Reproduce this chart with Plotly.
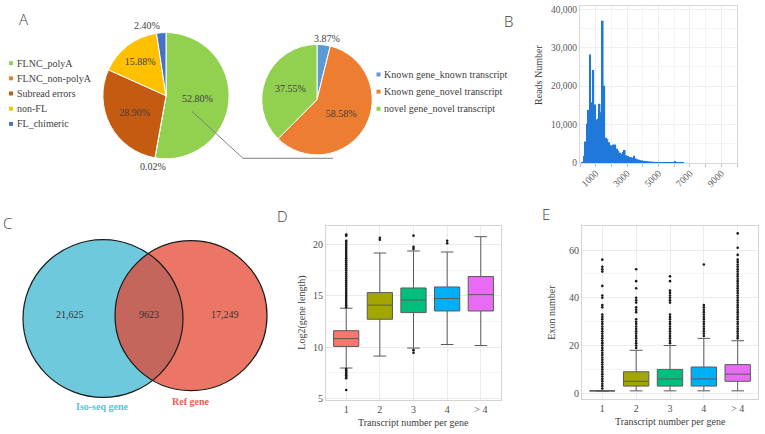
import numpy as np
import plotly.graph_objects as go

W, H = 765, 434
SERIF = "Liberation Serif, Times New Roman, serif"
SANS = "Open Sans, Liberation Sans, sans-serif"

# ---------------- data ----------------
pie1_labels = ["FLNC_polyA", "FLNC_non-polyA", "Subread errors", "non-FL", "FL_chimeric"]
pie1_values = [52.80, 0.02, 28.90, 15.88, 2.40]
pie1_colors = ["#92D050", "#ED7D31", "#C55A11", "#FFC000", "#4472C4"]

pie2_labels = ["Known gene_known transcript", "Known gene_novel transcript", "novel gene_novel transcript"]
pie2_values = [3.87, 58.58, 37.55]
pie2_colors = ["#5B9BD5", "#ED7D31", "#92D050"]

hist_bin_left = [100, 200, 300, 400, 500, 600, 700, 800, 900, 1000,
                 1100, 1200, 1300, 1400, 1500, 1600, 1700, 1800, 1900, 2000,
                 2100, 2200, 2300, 2400, 2500, 2600, 2700, 2800, 2900, 3000,
                 3100, 3200, 3300, 3400, 3500, 3600, 3700, 3800, 3900, 4000,
                 4100, 4200, 4300, 4400, 4500, 4600, 4700, 4800, 4900, 5000,
                 5100, 5200, 5300, 5400, 5500, 5600, 5700, 5800, 5900, 6000,
                 6100, 6200, 6300, 6400, 6500, 6600, 6700, 6800]
hist_counts = [300, 1800, 5600, 10200, 13800, 28200, 15800, 24200, 15200, 11300,
               11600, 15400, 13200, 37000, 20100, 6600, 6200, 5400, 4700, 4400,
               4800, 4800, 3700, 3200, 2700, 2400, 2900, 3400, 2000, 1800,
               1600, 1500, 1400, 1900, 1200, 1000, 850, 750, 650, 600,
               550, 500, 450, 400, 350, 330, 300, 280, 250, 230,
               210, 200, 180, 160, 150, 140, 130, 120, 200, 500,
               150, 80, 60, 40, 30, 25, 20, 15]
hist_tickvals = [1000, 3000, 5000, 7000, 9000]

venn_sets = ["Iso-seq gene", "Ref gene"]
venn_texts = ["21,625", "9623", "17,249"]

box_cats = ["1", "2", "3", "4", "> 4"]
box_colors = ["#F8766D", "#A3A500", "#00BF7D", "#00B0F6", "#E76BF3"]

d_q1 = [10.06, 12.72, 13.37, 13.53, 13.53]
d_med = [10.83, 14.10, 14.60, 14.75, 15.13]
d_q3 = [11.60, 15.33, 15.78, 15.88, 16.90]
d_lo = [7.95, 9.12, 9.90, 10.25, 10.15]
d_hi = [13.80, 19.20, 19.40, 19.30, 20.80]
d_out = [
    [13.9, 14.1, 14.3, 14.5, 14.7, 14.9, 15.1, 15.3, 15.5, 15.7, 15.9, 16.1, 16.3, 16.5,
     16.7, 16.9, 17.1, 17.3, 17.5, 17.7, 17.9, 18.1, 18.3, 18.5, 18.7, 18.9, 19.1, 19.3,
     19.5, 19.7, 19.9, 20.1, 20.3, 20.4, 20.9, 21.0,
     7.85, 7.7, 7.55, 7.4, 7.25, 7.1, 6.95, 5.8],
    [20.5, 20.7],
    [9.7, 9.45, 19.6, 19.8, 20.9],
    [20.15, 20.4],
    [],
]

e_q1 = [1, 3, 3, 3, 5]
e_med = [1, 5, 6, 6, 8]
e_q3 = [1, 9, 10, 11, 12]
e_lo = [1, 1, 1, 1, 1]
e_hi = [1, 18, 20, 23, 22]
e_out = [
    [2, 3, 4, 5, 6, 7, 8, 9, 10, 11, 12, 13, 14, 15, 16, 17, 18, 19, 20, 21, 22, 23, 24,
     25, 26, 27, 28, 29, 30, 31, 32, 33, 36, 37, 40, 41, 45, 51, 52, 53, 56],
    [19, 20, 21, 22, 23, 24, 25, 26, 27, 28, 29, 30, 31, 34, 35, 36, 38, 39, 40, 44, 47, 52],
    [21, 22, 23, 24, 25, 26, 27, 28, 29, 30, 31, 32, 33, 38, 39, 40, 41, 42, 43, 47, 49],
    [24, 25, 26, 27, 28, 29, 30, 31, 32, 33, 34, 35, 36, 37, 54],
    [23, 24, 25, 26, 27, 28, 29, 30, 31, 32, 33, 34, 35, 36, 37, 38, 39, 40, 41, 42, 43, 44,
     45, 46, 47, 48, 49, 50, 51, 52, 53, 54, 55, 56, 58, 61, 67],
]


def PX(x):
    return x / W


def PY(y):
    return 1 - y / H


fig = go.Figure()
shapes = []
annotations = []


def text_at(text, x, y, font, xanchor="center", yanchor="middle", angle=0):
    annotations.append(dict(text=text, x=PX(x), y=PY(y), xref="paper", yref="paper",
                            xanchor=xanchor, yanchor=yanchor, showarrow=False,
                            textangle=angle, font=font))


pct_font = dict(family=SERIF, size=10, color="#404040")

# ---------------- Panel A: pies ----------------
c1, r1 = (166, 96), 64
pie1_pos = ["inside", "none", "inside", "inside", "none"]
fig.add_trace(go.Pie(
    labels=pie1_labels, values=pie1_values, sort=False, direction="clockwise", rotation=0,
    marker=dict(colors=pie1_colors, line=dict(color="white", width=1)),
    texttemplate="%{value:.2f}%", textposition=pie1_pos,
    insidetextorientation="horizontal", textfont=pct_font,
    domain=dict(x=[PX(c1[0] - r1), PX(c1[0] + r1)], y=[PY(c1[1] + r1), PY(c1[1] - r1)]),
    showlegend=False, hoverinfo="label+value",
))
# outside labels for thin slices
text_at(f"{pie1_values[4]:.2f}%", 147, 25, pct_font)
text_at(f"{pie1_values[1]:.2f}%", 153, 168, pct_font)

c2, r2 = (317, 100), 56
fig.add_trace(go.Pie(
    labels=pie2_labels, values=pie2_values, sort=False, direction="clockwise", rotation=0,
    marker=dict(colors=pie2_colors, line=dict(color="white", width=1)),
    texttemplate="%{value:.2f}%", textposition=["none", "inside", "inside"],
    insidetextorientation="horizontal", textfont=pct_font,
    domain=dict(x=[PX(c2[0] - r2), PX(c2[0] + r2)], y=[PY(c2[1] + r2), PY(c2[1] - r2)]),
    showlegend=False, hoverinfo="label+value",
))
text_at(f"{pie2_values[0]:.2f}%", 327, 38, pct_font)


# manual legends
def add_legend(labels, colors, x_marker, x_text, y0, dy):
    for i, (lab, col) in enumerate(zip(labels, colors)):
        y = y0 + i * dy
        shapes.append(dict(type="rect", xref="paper", yref="paper",
                           x0=PX(x_marker - 2), x1=PX(x_marker + 2),
                           y0=PY(y + 2), y1=PY(y - 2), fillcolor=col, line=dict(width=0)))
        text_at(lab, x_text, y, dict(family=SERIF, size=10, color="#404040"), xanchor="left")


add_legend(pie1_labels, pie1_colors, 11, 15, 63, 15.4)
add_legend(pie2_labels, pie2_colors, 378.5, 382, 74.5, 17.4)

# connector line between pies
shapes.append(dict(type="path", xref="paper", yref="paper",
                   path=f"M {PX(192)},{PY(112)} L {PX(243)},{PY(159.5)} L {PX(333)},{PY(159.5)}",
                   line=dict(color="#7F7F7F", width=1)))

# ---------------- Panel B: histogram ----------------
fig.add_trace(go.Bar(
    x=[b + 50 for b in hist_bin_left], y=hist_counts, width=[100] * len(hist_bin_left),
    marker=dict(color="#1F78DA", line=dict(width=0)),
    xaxis="x", yaxis="y", showlegend=False,
))

# ---------------- Panel C: Venn ----------------
vc1, vr1 = np.array([103.0, 322.0]), 80.0
vc2, vr2 = np.array([191.0, 319.0]), 76.0
shapes.append(dict(type="circle", xref="paper", yref="paper",
                   x0=PX(vc1[0] - vr1), x1=PX(vc1[0] + vr1), y0=PY(vc1[1] + vr1), y1=PY(vc1[1] - vr1),
                   fillcolor="#6EC9DD", line=dict(width=0), layer="below"))
shapes.append(dict(type="circle", xref="paper", yref="paper",
                   x0=PX(vc2[0] - vr2), x1=PX(vc2[0] + vr2), y0=PY(vc2[1] + vr2), y1=PY(vc2[1] - vr2),
                   fillcolor="#EC7665", line=dict(width=0), layer="below"))
d = np.linalg.norm(vc2 - vc1)
ex = (vc2 - vc1) / d
perp = np.array([-ex[1], ex[0]])
a = (vr1 ** 2 - vr2 ** 2 + d ** 2) / (2 * d)
h = np.sqrt(vr1 ** 2 - a ** 2)
pA = vc1 + a * ex + h * perp
pB = vc1 + a * ex - h * perp
tA1 = np.arctan2(*(pA - vc1)[::-1])
tB1 = np.arctan2(*(pB - vc1)[::-1])
t1 = np.linspace(min(tA1, tB1), max(tA1, tB1), 60)
arc1 = vc1[None, :] + vr1 * np.c_[np.cos(t1), np.sin(t1)]
tA2 = np.arctan2(*(pA - vc2)[::-1]) % (2 * np.pi)
tB2 = np.arctan2(*(pB - vc2)[::-1]) % (2 * np.pi)
s, e = (tA2, tB2) if tA2 < tB2 else (tB2, tA2)
t2 = np.linspace(s, e, 60)
arc2 = vc2[None, :] + vr2 * np.c_[np.cos(t2), np.sin(t2)]
if np.linalg.norm(arc1[-1] - arc2[0]) > np.linalg.norm(arc1[-1] - arc2[-1]):
    arc2 = arc2[::-1]
pts = np.vstack([arc1, arc2])
path = "M " + " L ".join(f"{PX(p[0]):.5f},{PY(p[1]):.5f}" for p in pts) + " Z"
shapes.append(dict(type="path", xref="paper", yref="paper", path=path,
                   fillcolor="#C4665B", line=dict(width=0), layer="below"))
for cc, rr in [(vc1, vr1), (vc2, vr2)]:
    shapes.append(dict(type="circle", xref="paper", yref="paper",
                       x0=PX(cc[0] - rr), x1=PX(cc[0] + rr), y0=PY(cc[1] + rr), y1=PY(cc[1] - rr),
                       fillcolor="rgba(0,0,0,0)", line=dict(color="#1A1A1A", width=1.2), layer="below"))
for txt, x in zip(venn_texts, [70, 149, 225]):
    text_at(txt, x, 318, dict(family=SERIF, size=10, color="#333333"))
text_at(f"<b>{venn_sets[0]}</b>", 102, 411, dict(family=SERIF, size=10, color="#5BC3DC"))
text_at(f"<b>{venn_sets[1]}</b>", 190, 406, dict(family=SERIF, size=10, color="#E8604E"))


# ---------------- Panels D & E: boxplots ----------------
def add_boxes(q1, med, q3, lo, hi, outs, xa, ya):
    for i, cat in enumerate(box_cats):
        fig.add_trace(go.Box(
            x=[cat], q1=[q1[i]], median=[med[i]], q3=[q3[i]], lowerfence=[lo[i]], upperfence=[hi[i]],
            fillcolor=box_colors[i], line=dict(color="#5A5A5A", width=1), width=0.75,
            xaxis=xa, yaxis=ya, showlegend=False, boxpoints=False,
        ))
        if outs[i]:
            fig.add_trace(go.Scatter(
                x=[cat] * len(outs[i]), y=outs[i], mode="markers",
                marker=dict(color="#1A1A1A", size=2.6), xaxis=xa, yaxis=ya, showlegend=False,
            ))


add_boxes(d_q1, d_med, d_q3, d_lo, d_hi, d_out, "x2", "y2")
add_boxes(e_q1, e_med, e_q3, e_lo, e_hi, e_out, "x3", "y3")

tickfont = dict(family=SERIF, size=10, color="#4D4D4D")
box_x = dict(type="category", categoryorder="array", categoryarray=box_cats, range=[-0.6, 4.6],
             showgrid=True, gridcolor="#EBEBEB", gridwidth=0.8, showline=True, mirror=True,
             linecolor="#D4D4D4", linewidth=1, ticks="", tickfont=tickfont, zeroline=False, fixedrange=True)

fig.update_layout(
    width=W, height=H, margin=dict(l=0, r=0, t=0, b=0),
    paper_bgcolor="white", plot_bgcolor="white",
    boxmode="overlay",
    xaxis=dict(domain=[PX(580), PX(737)], range=[0, 10000], tickvals=hist_tickvals,
               ticktext=[str(v) for v in hist_tickvals], tickangle=-45,
               tickfont=dict(family=SERIF, size=9.5, color="#595959"),
               showgrid=True, gridcolor="#EEEEEE", gridwidth=0.8,
               minor=dict(dtick=1000, tick0=0, showgrid=True, gridcolor="#F4F4F4", ticks="outside",
                          ticklen=3, tickcolor="#BFBFBF"),
               showline=True, mirror=True, linecolor="#D9D9D9", zeroline=False, anchor="y"),
    yaxis=dict(domain=[PY(164.3), PY(5)], range=[0, 40850], tickvals=[0, 10000, 20000, 30000, 40000],
               tickformat=",d", tickfont=dict(family=SERIF, size=9.5, color="#595959"),
               showgrid=True, gridcolor="#EEEEEE", gridwidth=0.8,
               minor=dict(dtick=5000, showgrid=True, gridcolor="#F4F4F4"),
               showline=True, mirror=True, linecolor="#D9D9D9", zeroline=False, anchor="x"),
    xaxis2=dict(box_x, domain=[PX(326), PX(501)], anchor="y2"),
    yaxis2=dict(domain=[PY(404.3), PY(228.3)], range=[4.85, 21.83], tickvals=[5, 10, 15, 20],
                showgrid=True, gridcolor="#EBEBEB", gridwidth=0.8,
                minor=dict(dtick=2.5, tick0=5, showgrid=True, gridcolor="#F5F5F5"),
                showline=True, mirror=True, linecolor="#D4D4D4", ticks="", tickfont=tickfont,
                zeroline=False, anchor="x2"),
    xaxis3=dict(box_x, domain=[PX(582), PX(758)], anchor="y3"),
    yaxis3=dict(domain=[PY(403.3), PY(227.7)], range=[-2.3, 70.3], tickvals=[0, 20, 40, 60],
                showgrid=True, gridcolor="#EBEBEB", gridwidth=0.8,
                minor=dict(dtick=10, tick0=0, showgrid=True, gridcolor="#F5F5F5"),
                showline=True, mirror=True, linecolor="#D4D4D4", ticks="", tickfont=tickfont,
                zeroline=False, anchor="x3"),
)

# axis titles
title_font = dict(family=SERIF, size=10, color="#404040")
text_at("Reads Number", 539, 75, title_font, angle=-90)
text_at("Log2(gene length)", 302, 316, title_font, angle=-90)
text_at("Transcript number per gene", 413, 427, title_font)
text_at("Exon number", 552, 316, title_font, angle=-90)
text_at("Transcript number per gene", 670, 426, title_font)

# panel letters
for lab, x, y in [("A", 23, 18), ("B", 508, 20), ("C", 8, 225), ("D", 282, 218), ("E", 546, 216)]:
    text_at(lab, x, y, dict(family=SANS, size=15, color="#3A3A3A", weight=300))

fig.update_layout(shapes=shapes, annotations=annotations)
fig.write_html("out.html", config={"displayModeBar": False},
               post_script="document.body.style.margin='0';")
